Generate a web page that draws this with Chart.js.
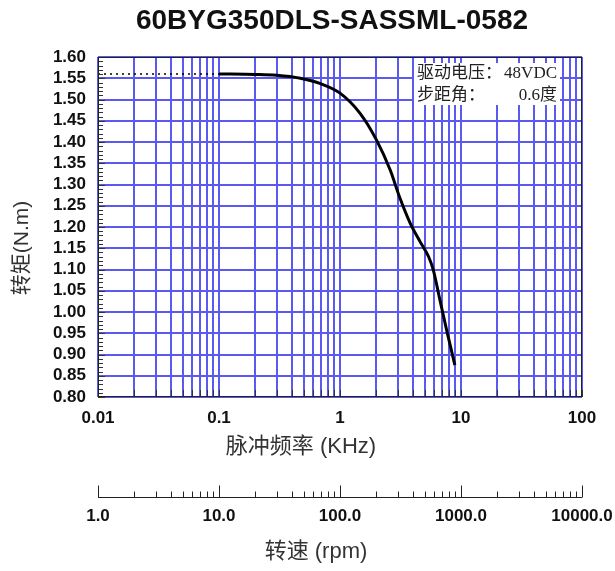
<!DOCTYPE html>
<html>
<head>
<meta charset="utf-8">
<script src="https://cdn.jsdelivr.net/npm/chart.js@4.4.1/dist/chart.umd.min.js"></script>
<style>
html, body { margin: 0; padding: 0; background: #fff; }
</style>
</head>
<body>
<canvas id="torqueChart" width="615" height="571"></canvas>
<script>
// chart data
var chartTitle = '60BYG350DLS-SASSML-0582';
var freqKHz   = [0.1, 0.2, 0.3, 0.47, 0.68, 1.0, 1.46, 2.0, 2.6, 3.1, 3.8, 4.6, 5.4, 5.9, 6.7, 7.6, 8.9];
var torqueNm  = [1.56, 1.559, 1.557, 1.55, 1.538, 1.515, 1.468, 1.405, 1.334, 1.271, 1.209, 1.165, 1.13, 1.099, 1.028, 0.958, 0.875];
var holdFreq  = [0.01, 0.1];
var holdTorque = [1.56, 1.56];

// axes
var freqGrid = [0.01, 0.02, 0.03, 0.04, 0.05, 0.06, 0.07, 0.08, 0.09,
                0.1, 0.2, 0.3, 0.4, 0.5, 0.6, 0.7, 0.8, 0.9,
                1, 2, 3, 4, 5, 6, 7, 8, 9,
                10, 20, 30, 40, 50, 60, 70, 80, 90, 100];
var freqMajor = [0.01, 0.1, 1, 10, 100];
var freqLabels = ['0.01', '0.1', '1', '10', '100'];
var torqueTicks = [0.80, 0.85, 0.90, 0.95, 1.00, 1.05, 1.10, 1.15, 1.20, 1.25, 1.30, 1.35, 1.40, 1.45, 1.50, 1.55, 1.60];
var rpmTicks = [1, 2, 3, 4, 5, 6, 7, 8, 9,
                10, 20, 30, 40, 50, 60, 70, 80, 90,
                100, 200, 300, 400, 500, 600, 700, 800, 900,
                1000, 2000, 3000, 4000, 5000, 6000, 7000, 8000, 9000, 10000];
var rpmMajor = [1, 10, 100, 1000, 10000];
var rpmLabels = ['1.0', '10.0', '100.0', '1000.0', '10000.0'];

var xTitle = '脉冲频率 (KHz)';
var yTitle = '转矩(N.m)';
var rpmTitle = '转速 (rpm)';
var noteLabels = ['驱动电压：', '步距角：'];
var noteValues = ['48VDC', '0.6度'];

var GRID_BLUE = '#5a5af0';
var sans = '"Liberation Sans", "Noto Sans CJK SC", sans-serif';

function toPoints(xs, ys) {
    var out = [];
    for (var i = 0; i < xs.length; i++) out.push({ x: xs[i], y: ys[i] });
    return out;
}

var plotDecor = {
    id: 'plotDecor',
    afterDatasetsDraw: function (chart) {
        var ctx = chart.ctx, a = chart.chartArea;
        var x = chart.scales.x, y = chart.scales.y, rpm = chart.scales.rpm;
        ctx.save();

        // small ticks on the inside of the frame
        ctx.strokeStyle = '#333';
        ctx.lineWidth = 1;
        ctx.beginPath();
        for (var i = 0; i <= 80; i++) {
            var py = Math.round(y.getPixelForValue(0.8 + i * 0.01)) + 0.5;
            var len = (i % 5 === 0) ? 7 : 5;
            ctx.moveTo(a.left, py);
            ctx.lineTo(a.left + len, py);
        }
        freqGrid.forEach(function (v) {
            var px = Math.round(x.getPixelForValue(v)) + 0.5;
            ctx.moveTo(px, a.bottom);
            ctx.lineTo(px, a.bottom - 7);
        });
        ctx.stroke();

        // frame
        ctx.strokeStyle = '#222';
        ctx.strokeRect(a.left + 0.5, a.top + 0.5, a.right - a.left - 1, a.bottom - a.top - 1);

        // note box
        ctx.fillStyle = '#fff';
        ctx.fillRect(414, 63, 146, 42);
        ctx.fillStyle = '#222';
        ctx.font = '17px "Liberation Serif", "Noto Sans CJK SC", serif';
        ctx.textBaseline = 'middle';
        ctx.textAlign = 'left';
        ctx.fillText(noteLabels[0], 417, 74);
        ctx.fillText(noteLabels[1], 417, 96);
        ctx.textAlign = 'right';
        ctx.fillText(noteValues[0], 557, 74);
        ctx.fillText(noteValues[1], 557, 96);

        // title
        ctx.fillStyle = '#111';
        ctx.textAlign = 'center';
        ctx.font = 'bold 28px "Liberation Sans", sans-serif';
        ctx.fillText(chartTitle, 332, 21);

        // axis titles
        ctx.fillStyle = '#333';
        ctx.font = '22px ' + sans;
        ctx.fillText(xTitle, 301, 447);
        ctx.fillText(rpmTitle, 316, 552);
        ctx.save();
        ctx.translate(22, 248);
        ctx.rotate(-Math.PI / 2);
        ctx.font = '21px ' + sans;
        ctx.fillText(yTitle, 0, 0);
        ctx.restore();

        // rpm scale
        var ay = 497.5;
        ctx.strokeStyle = '#222';
        ctx.beginPath();
        ctx.moveTo(rpm.left, ay);
        ctx.lineTo(rpm.right, ay);
        rpmTicks.forEach(function (v) {
            var px = Math.round(rpm.getPixelForValue(v)) + 0.5;
            var h = rpmMajor.indexOf(v) >= 0 ? 12 : 6;
            ctx.moveTo(px, ay);
            ctx.lineTo(px, ay - h);
        });
        ctx.stroke();
        ctx.fillStyle = '#111';
        ctx.font = 'bold 17px "Liberation Sans", sans-serif';
        rpmMajor.forEach(function (v, i) {
            ctx.fillText(rpmLabels[i], rpm.getPixelForValue(v), 516);
        });

        ctx.restore();
    }
};

var config = {
    type: 'line',
    data: {
        datasets: [{
            label: 'torque',
            data: toPoints(freqKHz, torqueNm),
            borderColor: '#000',
            borderWidth: 3,
            pointRadius: 0,
            cubicInterpolationMode: 'monotone',
            fill: false
        }, {
            label: 'hold',
            data: toPoints(holdFreq, holdTorque),
            borderColor: '#000',
            borderWidth: 1.5,
            borderDash: [2, 4],
            pointRadius: 0,
            fill: false
        }]
    },
    options: {
        responsive: false,
        animation: false,
        layout: { padding: { top: 57, right: 33, bottom: 134, left: 0 } },
        plugins: {
            legend: { display: false },
            tooltip: { enabled: false }
        },
        scales: {
            x: {
                type: 'logarithmic',
                min: 0.01,
                max: 100,
                afterBuildTicks: function (scale) {
                    scale.ticks = freqGrid.map(function (v) { return { value: v }; });
                },
                afterFit: function (scale) { scale.height = 40; },
                grid: { color: GRID_BLUE, lineWidth: 2, drawTicks: false },
                border: { display: false },
                ticks: {
                    autoSkip: false,
                    maxRotation: 0,
                    padding: 11,
                    color: '#111',
                    font: { family: 'Liberation Sans', size: 17, weight: 'bold' },
                    callback: function (value) {
                        var k = freqMajor.indexOf(value);
                        return k >= 0 ? freqLabels[k] : '';
                    }
                }
            },
            rpm: {
                type: 'logarithmic',
                axis: 'x',
                position: 'bottom',
                display: false,
                min: 1,
                max: 10000
            },
            y: {
                type: 'linear',
                min: 0.8,
                max: 1.6,
                afterBuildTicks: function (scale) {
                    scale.ticks = torqueTicks.map(function (v) { return { value: v }; });
                },
                afterFit: function (scale) { scale.width = 98; },
                grid: { color: GRID_BLUE, lineWidth: 2, drawTicks: false },
                border: { display: false },
                ticks: {
                    autoSkip: false,
                    padding: 12,
                    color: '#111',
                    font: { family: 'Liberation Sans', size: 17, weight: 'bold' },
                    callback: function (value) { return Number(value).toFixed(2); }
                }
            }
        }
    },
    plugins: [plotDecor]
};

var ctx = document.getElementById('torqueChart').getContext('2d');
window.torqueChart = new Chart(ctx, config);
</script>
</body>
</html>
